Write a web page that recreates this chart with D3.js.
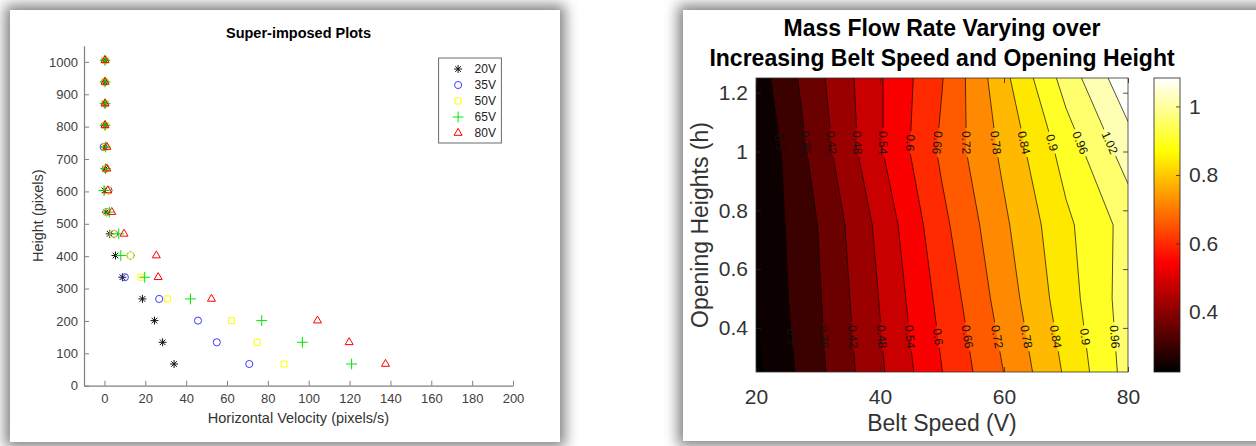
<!DOCTYPE html>
<html>
<head>
<meta charset="utf-8">
<script src="https://cdn.jsdelivr.net/npm/d3@7"></script>
<style>
  html, body { margin: 0; padding: 0; background: #fff; }
  svg { display: block; font-family: "Liberation Sans", Arial, sans-serif; }
</style>
</head>
<body>
<svg id="fig" width="1256" height="446"></svg>
<script>
// ---------- left panel: super-imposed trajectories ----------
var heights = [67, 134, 201, 268, 335, 402, 469, 536, 603, 670, 737, 804, 871, 938, 1005];
var vel20 = [34.1, 28.5, 24.5, 18.6, 8.8, 5.4, 2.6, 0.7, 0.0, 0.4, 0.2, 0.3, 0.2, 0.2, 0.3];
var vel35 = [70.9, 55.0, 45.8, 26.8, 10.0, 12.8, 4.7, 1.0, 2.0, 0.6, -0.4, 0.2, 0.3, 0.2, 0.3];
var vel50 = [87.9, 74.8, 62.2, 30.8, 17.8, 12.6, 4.2, 1.2, 1.4, 0.8, 0.6, 0.4, 0.3, 0.3, 0.3];
var vel65 = [121.0, 96.9, 77.0, 42.1, 19.7, 8.0, 7.0, 2.4, -0.2, 0.5, 0.6, 0.3, 0.3, 0.3, 0.3];
var vel80 = [137.6, 119.8, 104.3, 52.4, 26.3, 25.4, 9.6, 3.6, 1.6, 1.2, 1.2, 0.3, 0.3, 0.3, 0.3];
var seriesNames = ["20V", "35V", "50V", "65V", "80V"];
var velTicks = [0, 20, 40, 60, 80, 100, 120, 140, 160, 180, 200];
var heightTicks = [0, 100, 200, 300, 400, 500, 600, 700, 800, 900, 1000];

// ---------- right panel: mass flow rate grid ----------
var beltSpeeds = [20, 30, 40, 50, 60, 70, 80];
var openingHeights = [0.25, 0.5, 0.75, 1.0, 1.25];
var flowH025 = [0.226, 0.344, 0.470, 0.599, 0.721, 0.849, 0.983];
var flowH050 = [0.242, 0.353, 0.483, 0.620, 0.748, 0.873, 0.990];
var flowH075 = [0.246, 0.361, 0.497, 0.644, 0.769, 0.887, 0.983];
var flowH100 = [0.241, 0.386, 0.533, 0.672, 0.794, 0.924, 1.049];
var flowH125 = [0.268, 0.405, 0.534, 0.657, 0.824, 0.985, 1.125];
var contourLevels = [0.24, 0.30, 0.36, 0.42, 0.48, 0.54, 0.60, 0.66, 0.72, 0.78, 0.84, 0.90, 0.96, 1.02, 1.08];
var labelLevelsUpper = [0.30, 0.36, 0.42, 0.48, 0.54, 0.60, 0.66, 0.72, 0.78, 0.84, 0.90, 0.96, 1.02];
var labelLevelsLower = [0.30, 0.36, 0.42, 0.48, 0.54, 0.60, 0.66, 0.72, 0.78, 0.84, 0.90, 0.96];
var labelRowHeights = [1.03, 0.37];
var speedTicks = [20, 40, 60, 80];
var openTicks = [0.4, 0.6, 0.8, 1, 1.2];
var cbarTicks = [0.4, 0.6, 0.8, 1];
var cbarRange = [0.225, 1.083];

var FONT = '"Liberation Sans", Arial, sans-serif';
var svg = d3.select("#fig");
var defs = svg.append("defs");

// panels with soft shadow
var blur = defs.append("filter").attr("id", "soft")
  .attr("x", "-20%").attr("y", "-20%").attr("width", "140%").attr("height", "140%");
blur.append("feGaussianBlur").attr("stdDeviation", 7);
var panels = [{x: 10, y: 10, w: 550, h: 432}, {x: 683, y: 10, w: 600, h: 431}];
svg.selectAll("rect.shade").data(panels).enter().append("rect")
  .attr("class", "shade")
  .attr("x", function (d) { return d.x - 5; })
  .attr("y", function (d) { return d.y - 5; })
  .attr("width", function (d) { return d.w + 10; })
  .attr("height", function (d) { return d.h + 10; })
  .attr("fill", "#555").attr("opacity", 0.75)
  .attr("filter", "url(#soft)");
svg.selectAll("rect.panel").data(panels).enter().append("rect")
  .attr("class", "panel")
  .attr("x", function (d) { return d.x; })
  .attr("y", function (d) { return d.y; })
  .attr("width", function (d) { return d.w; })
  .attr("height", function (d) { return d.h; })
  .attr("fill", "#fff");

// ================= LEFT CHART =================
var xL = d3.scaleLinear().domain([-10, 200]).range([84, 513]);
var yL = d3.scaleLinear().domain([0, 1050]).range([385.7, 45.7]);
var gL = svg.append("g");

function styleLeftAxis(g) {
  g.attr("font-family", FONT).attr("font-size", 13);
  g.select(".domain").attr("stroke", "#808080").attr("stroke-width", 1.2);
  g.selectAll(".tick line").attr("stroke", "#808080");
  g.selectAll(".tick text").attr("fill", "#404040");
}

gL.append("g").attr("transform", "translate(0," + yL(0) + ")")
  .call(d3.axisBottom(xL).tickValues(velTicks).tickSizeInner(-5).tickSizeOuter(0).tickPadding(8).tickFormat(d3.format("d")))
  .call(styleLeftAxis);
gL.append("g").attr("transform", "translate(" + xL(-10) + ",0)")
  .call(d3.axisLeft(yL).tickValues(heightTicks).tickSizeInner(-5).tickSizeOuter(0).tickPadding(6).tickFormat(d3.format("d")))
  .call(styleLeftAxis);

gL.append("text").attr("x", (xL(-10) + xL(200)) / 2).attr("y", 38)
  .attr("text-anchor", "middle").attr("font-size", 14.5).attr("font-weight", "bold")
  .attr("fill", "#000").text("Super-imposed Plots");
gL.append("text").attr("x", (xL(-10) + xL(200)) / 2).attr("y", 423)
  .attr("text-anchor", "middle").attr("font-size", 14.5).attr("fill", "#333")
  .text("Horizontal Velocity (pixels/s)");
gL.append("text").attr("transform", "translate(43," + yL(525) + ") rotate(-90)")
  .attr("text-anchor", "middle").attr("font-size", 14.5).attr("fill", "#333")
  .text("Height (pixels)");

var symAsterisk = {
  draw: function (ctx, size) {
    var r = Math.sqrt(size) / 2, d = r * 0.7071;
    ctx.moveTo(0, -r); ctx.lineTo(0, r);
    ctx.moveTo(-r, 0); ctx.lineTo(r, 0);
    ctx.moveTo(-d, -d); ctx.lineTo(d, d);
    ctx.moveTo(-d, d); ctx.lineTo(d, -d);
  }
};
var series = [
  {name: seriesNames[0], vals: vel20, color: "#111", type: symAsterisk, size: 64},
  {name: seriesNames[1], vals: vel35, color: "#3c3cff", type: d3.symbolCircle, size: 40},
  {name: seriesNames[2], vals: vel50, color: "#ffff00", type: d3.symbolSquare2, size: 46},
  {name: seriesNames[3], vals: vel65, color: "#00e600", type: d3.symbolPlus, size: 40},
  {name: seriesNames[4], vals: vel80, color: "#ff0000", type: d3.symbolTriangle2, size: 46}
];

series.forEach(function (s) {
  var sym = d3.symbol().type(s.type).size(s.size);
  gL.append("g").selectAll("path").data(s.vals).enter().append("path")
    .attr("transform", function (d, i) { return "translate(" + xL(d) + "," + yL(heights[i]) + ")"; })
    .attr("d", sym)
    .attr("fill", "none").attr("stroke", s.color).attr("stroke-width", 1);
});

// legend
var lg = gL.append("g").attr("transform", "translate(438.6,58)");
lg.append("rect").attr("width", 62.8).attr("height", 85)
  .attr("fill", "#fff").attr("stroke", "#6a6a6a").attr("stroke-width", 1);
var item = lg.selectAll("g.item").data(series).enter().append("g")
  .attr("class", "item")
  .attr("transform", function (d, i) { return "translate(0," + (11 + i * 16) + ")"; });
item.append("path").attr("transform", "translate(19.5,0)")
  .attr("d", function (d) { return d3.symbol().type(d.type).size(d.size)(); })
  .attr("fill", "none").attr("stroke", function (d) { return d.color; }).attr("stroke-width", 1);
item.append("text").attr("x", 36).attr("dy", "0.36em")
  .attr("font-size", 12).attr("fill", "#222")
  .text(function (d) { return d.name; });

// ================= RIGHT CHART =================
var R = {left: 756, right: 1128, top: 78, bottom: 372};
var xR = d3.scaleLinear().domain([beltSpeeds[0], beltSpeeds[beltSpeeds.length - 1]]).range([R.left, R.right]);
var yR = d3.scaleLinear().domain([openingHeights[0], openingHeights[openingHeights.length - 1]]).range([R.bottom, R.top]);

var cmin = cbarRange[0], cmax = cbarRange[1], span = cmax - cmin;
var hot = d3.scaleLinear()
  .domain([cmin, cmin + 0.375 * span, cmin + 0.75 * span, cmax])
  .range(["#000000", "#ff0000", "#ffff00", "#ffffff"])
  .clamp(true);

var nx = beltSpeeds.length, ny = openingHeights.length;
var grid = [].concat(flowH025, flowH050, flowH075, flowH100, flowH125);
var contours = d3.contours().size([nx, ny]).thresholds(contourLevels)(grid);
var gx = d3.scaleLinear().domain([0.5, nx - 0.5]).range([beltSpeeds[0], beltSpeeds[nx - 1]]);
var gy = d3.scaleLinear().domain([0.5, ny - 0.5]).range([openingHeights[0], openingHeights[ny - 1]]);
function toPix(p) { return [xR(gx(p[0])), yR(gy(p[1]))]; }
var path = d3.geoPath(d3.geoTransform({
  point: function (px, py) { var q = toPix([px, py]); this.stream.point(q[0], q[1]); }
}));

defs.append("clipPath").attr("id", "plotClip").append("rect")
  .attr("x", R.left).attr("y", R.top).attr("width", R.right - R.left).attr("height", R.bottom - R.top);

var gR = svg.append("g");
var fills = gR.append("g").attr("clip-path", "url(#plotClip)");
fills.append("rect").attr("x", R.left).attr("y", R.top)
  .attr("width", R.right - R.left).attr("height", R.bottom - R.top)
  .attr("fill", hot(cmin));
fills.selectAll("path").data(contours).enter().append("path")
  .attr("d", path)
  .attr("fill", function (d) { return hot(d.value); })
  .attr("stroke", function (d) { return hot(d.value); })
  .attr("stroke-width", 0.3);

// label mask so lines break under labels
var mask = defs.append("mask").attr("id", "lblMask")
  .attr("maskUnits", "userSpaceOnUse")
  .attr("x", 0).attr("y", 0).attr("width", 1256).attr("height", 446);
mask.append("rect").attr("x", 0).attr("y", 0).attr("width", 1256).attr("height", 446).attr("fill", "#fff");

var lines = gR.append("g").attr("clip-path", "url(#plotClip)")
  .append("g").attr("mask", "url(#lblMask)");
lines.selectAll("path").data(contours).enter().append("path")
  .attr("d", path)
  .attr("fill", "none").attr("stroke", "#000").attr("stroke-width", 0.8).attr("stroke-opacity", 0.85);

function findCrossing(level, yPix) {
  var c = contours.filter(function (k) { return Math.abs(k.value - level) < 1e-9; })[0];
  if (!c) return null;
  var best = null;
  c.coordinates.forEach(function (poly) {
    poly.forEach(function (ring) {
      for (var i = 0; i < ring.length - 1; i++) {
        var p = toPix(ring[i]), q = toPix(ring[i + 1]);
        if (p[1] === q[1] || (p[1] - yPix) * (q[1] - yPix) > 0) continue;
        var t = (yPix - p[1]) / (q[1] - p[1]);
        var x = p[0] + t * (q[0] - p[0]);
        if (x < R.left + 3 || x > R.right - 3) continue;
        var ang = Math.atan2(q[1] - p[1], q[0] - p[0]) * 180 / Math.PI;
        if (ang < 0) ang += 180;
        if (!best) best = {x: x, y: yPix, a: ang, v: level};
      }
    });
  });
  return best;
}

var labelSpots = [];
[labelLevelsUpper, labelLevelsLower].forEach(function (lv, r) {
  lv.forEach(function (level) {
    var s = findCrossing(level, yR(labelRowHeights[r]));
    if (s) labelSpots.push(s);
  });
});

var labels = gR.append("g").attr("clip-path", "url(#plotClip)");
labels.selectAll("text").data(labelSpots).enter().append("text")
  .attr("transform", function (d) { return "translate(" + d.x + "," + d.y + ") rotate(" + d.a + ")"; })
  .attr("text-anchor", "middle").attr("dy", "0.35em")
  .attr("font-size", 12).attr("fill", "#111")
  .text(function (d) { return String(d.v); })
  .each(function (d) { d.len = this.getComputedTextLength(); });
mask.selectAll("rect.gap").data(labelSpots).enter().append("rect")
  .attr("class", "gap")
  .attr("x", function (d) { return -(d.len + 6) / 2; })
  .attr("y", -6)
  .attr("width", function (d) { return d.len + 6; })
  .attr("height", 12)
  .attr("transform", function (d) { return "translate(" + d.x + "," + d.y + ") rotate(" + d.a + ")"; })
  .attr("fill", "#000");

// axes and box
function styleRightAxis(g) {
  g.attr("font-family", FONT).attr("font-size", 21);
  g.select(".domain").remove();
  g.selectAll(".tick line").attr("stroke", "#262626").attr("stroke-width", 0.8);
  g.selectAll(".tick text").attr("fill", "#333");
}
gR.append("g").attr("transform", "translate(0," + R.bottom + ")")
  .call(d3.axisBottom(xR).tickValues(speedTicks).tickSizeInner(-5).tickSizeOuter(0).tickPadding(17))
  .call(styleRightAxis);
gR.append("g").attr("transform", "translate(0," + R.top + ")")
  .call(d3.axisTop(xR).tickValues(speedTicks).tickSizeInner(-5).tickSizeOuter(0).tickFormat(""))
  .call(styleRightAxis);
gR.append("g").attr("transform", "translate(" + R.left + ",0)")
  .call(d3.axisLeft(yR).tickValues(openTicks).tickSizeInner(-5).tickSizeOuter(0).tickPadding(8).tickFormat(d3.format("~g")))
  .call(styleRightAxis);
gR.append("g").attr("transform", "translate(" + R.right + ",0)")
  .call(d3.axisRight(yR).tickValues(openTicks).tickSizeInner(-5).tickSizeOuter(0).tickFormat(""))
  .call(styleRightAxis);
gR.append("rect").attr("x", R.left).attr("y", R.top)
  .attr("width", R.right - R.left).attr("height", R.bottom - R.top)
  .attr("fill", "none").attr("stroke", "#333").attr("stroke-width", 0.8);

// titles
var midR = (R.left + R.right) / 2;
gR.append("text").attr("x", midR).attr("y", 36).attr("text-anchor", "middle")
  .attr("font-size", 23).attr("font-weight", "bold").attr("fill", "#000")
  .text("Mass Flow Rate Varying over");
gR.append("text").attr("x", midR).attr("y", 66).attr("text-anchor", "middle")
  .attr("font-size", 23).attr("font-weight", "bold").attr("fill", "#000")
  .text("Increasing Belt Speed and Opening Height");
gR.append("text").attr("x", midR).attr("y", 431).attr("text-anchor", "middle")
  .attr("font-size", 23).attr("fill", "#333").text("Belt Speed (V)");
gR.append("text").attr("transform", "translate(708," + ((R.top + R.bottom) / 2) + ") rotate(-90)")
  .attr("text-anchor", "middle").attr("font-size", 23).attr("fill", "#333")
  .text("Opening Heights (h)");

// colorbar
var CB = {left: 1154, right: 1180};
var yC = d3.scaleLinear().domain(cbarRange).range([R.bottom, R.top]);
var grad = defs.append("linearGradient").attr("id", "hotGrad")
  .attr("x1", 0).attr("y1", 1).attr("x2", 0).attr("y2", 0);
grad.selectAll("stop").data(hot.domain()).enter().append("stop")
  .attr("offset", function (d) { return (d - cmin) / span; })
  .attr("stop-color", function (d) { return hot(d); });
gR.append("rect").attr("x", CB.left).attr("y", R.top)
  .attr("width", CB.right - CB.left).attr("height", R.bottom - R.top)
  .attr("fill", "url(#hotGrad)").attr("stroke", "#222").attr("stroke-width", 0.8);
gR.append("g").attr("transform", "translate(" + CB.right + ",0)")
  .call(d3.axisRight(yC).tickValues(cbarTicks).tickSizeInner(-4).tickSizeOuter(0).tickPadding(9).tickFormat(d3.format("~g")))
  .call(styleRightAxis);
</script>
</body>
</html>
